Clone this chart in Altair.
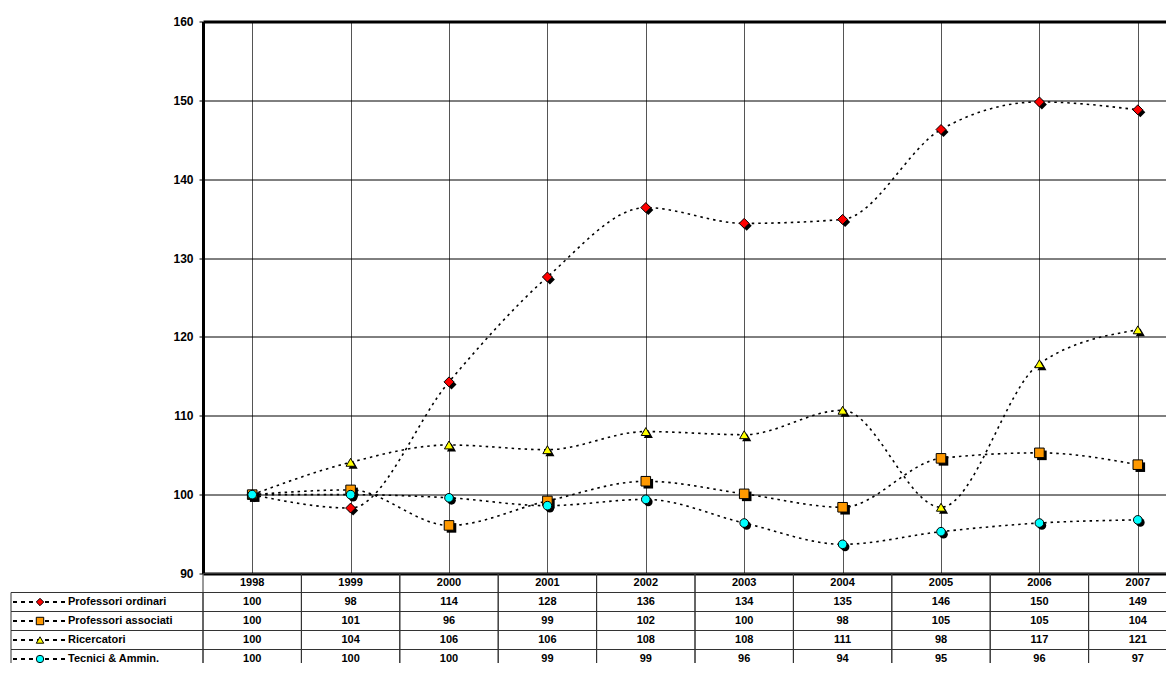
import altair as alt
import pandas as pd

years = ["1998", "1999", "2000", "2001", "2002", "2003", "2004", "2005", "2006", "2007"]
series = ["Professori ordinari", "Professori associati", "Ricercatori", "Tecnici & Ammin."]

# plotted values
po = [100, 98.3, 114.3, 127.6, 136.4, 134.4, 134.9, 146.3, 149.8, 148.8]
pa = [100, 100.6, 96.1, 99.2, 101.7, 100.1, 98.4, 104.6, 105.3, 103.8]
ric = [100, 104.1, 106.3, 105.7, 108.0, 107.6, 110.7, 98.4, 116.6, 120.9]
ta = [100, 100.0, 99.6, 98.6, 99.4, 96.4, 93.7, 95.3, 96.4, 96.8]

# data table values (as printed)
po_tab = [100, 98, 114, 128, 136, 134, 135, 146, 150, 149]
pa_tab = [100, 101, 96, 99, 102, 100, 98, 105, 105, 104]
ric_tab = [100, 104, 106, 106, 108, 108, 111, 98, 117, 121]
ta_tab = [100, 100, 100, 99, 99, 96, 94, 95, 96, 97]

y_ticks = [90, 100, 110, 120, 130, 140, 150, 160]
shapes = ["diamond", "square", "triangle-up", "circle"]
colors = ["#FF0000", "#FF9900", "#FFFF00", "#00FFFF"]
sizes = [100, 75, 85, 75]

FONT = "Liberation Sans"

vals = [po, pa, ric, ta]
tabs = [po_tab, pa_tab, ric_tab, ta_tab]

rows = []
for s, v in zip(series, vals):
    for yr, val in zip(years, v):
        rows.append({"year": yr, "series": s, "value": val})
df = pd.DataFrame(rows)

trows = []
for yr in years:
    trows.append({"year": yr, "row": "hdr", "label": yr})
for s, t in zip(series, tabs):
    for yr, val in zip(years, t):
        trows.append({"year": yr, "row": s, "label": str(val)})
tdf = pd.DataFrame(trows)

ldf = pd.DataFrame({"row": series, "series": series})

W = 984
H = 552

xscale = alt.Scale(domain=years, paddingInner=0, paddingOuter=0)
shape_scale = alt.Scale(domain=series, range=shapes)
fill_scale = alt.Scale(domain=series, range=colors)
size_scale = alt.Scale(domain=series, range=sizes)

xenc = alt.X("year:O", scale=xscale,
             axis=alt.Axis(labels=False, ticks=False, domain=False, grid=True,
                           bandPosition=0, title=None, gridColor="#555", gridWidth=1))
yenc = alt.Y("value:Q", scale=alt.Scale(domain=[90, 160], nice=False, zero=False),
             axis=alt.Axis(values=y_ticks, title=None, grid=True, gridColor="black",
                           gridWidth=alt.ExprRef(expr="datum.value == 160 || datum.value == 90 ? 3 : 1"),
                           domain=True, domainColor="black", domainWidth=3,
                           tickColor="black", tickSize=4,
                           labelPadding=6, labelFont=FONT, labelFontWeight="bold",
                           labelFontSize=12, labelColor="black"))

base = alt.Chart(df)
lines = base.mark_line(interpolate="monotone", color="black",
                       strokeDash=[2.5, 4], strokeWidth=1.6).encode(
    x=xenc, y=yenc, detail="series:N")
shadow = base.mark_point(filled=True, color="black", opacity=1, xOffset=2.5, yOffset=2.5).encode(
    x=alt.X("year:O", scale=xscale),
    y=alt.Y("value:Q"),
    shape=alt.Shape("series:N", scale=shape_scale, legend=None),
    size=alt.Size("series:N", scale=size_scale, legend=None))
pts = base.mark_point(filled=True, stroke="black", strokeWidth=1, opacity=1).encode(
    x=alt.X("year:O", scale=xscale),
    y=alt.Y("value:Q"),
    shape=alt.Shape("series:N", scale=shape_scale, legend=None),
    fill=alt.Fill("series:N", scale=fill_scale, legend=None),
    size=alt.Size("series:N", scale=size_scale, legend=None))

top = alt.layer(lines, shadow, pts).properties(
    width=W, height=H,
    view=alt.ViewBackground(strokeWidth=0))

# ---- data table (the window cuts its right end) ----
RH = 19
rowdom = ["hdr"] + series
TH = RH * len(rowdom)
yscale_t = alt.Scale(domain=rowdom, paddingInner=0, paddingOuter=0)
tx = alt.X("year:O", scale=xscale, axis=None)
ty = alt.Y("row:N", scale=yscale_t, axis=None)

cells = alt.Chart(tdf).mark_rect(fillOpacity=0, stroke="#333", strokeWidth=1).encode(x=tx, y=ty)
texts = alt.Chart(tdf).mark_text(font=FONT, fontWeight="bold", fontSize=11, color="black").encode(
    x=tx, y=ty, text="label:N")

lbox = alt.Chart(ldf).mark_rect(fillOpacity=0, stroke="#333", strokeWidth=1).encode(
    x=alt.value(-192), x2=alt.value(0), y=ty)
lrule = alt.Chart(ldf).mark_rule(color="black", strokeDash=[4, 4], strokeWidth=1.8).encode(
    x=alt.value(-190), x2=alt.value(-137),
    y=alt.Y("row:N", scale=yscale_t, axis=None, bandPosition=0.5))
lpt = alt.Chart(ldf).mark_point(filled=True, stroke="black", strokeWidth=1, opacity=1, size=55).encode(
    x=alt.value(-163), y=ty,
    shape=alt.Shape("series:N", scale=shape_scale, legend=None),
    fill=alt.Fill("series:N", scale=fill_scale, legend=None))
ltext = alt.Chart(ldf).mark_text(align="left", font=FONT, fontWeight="bold", fontSize=11,
                                 color="black").encode(
    x=alt.value(-135), y=ty, text="row:N")

table = alt.layer(cells, lbox, lrule, lpt, ltext, texts).properties(
    width=W, height=TH,
    view=alt.ViewBackground(strokeWidth=0))

chart = alt.vconcat(top, table, spacing=0, bounds="flush").properties(
    padding={"left": 2, "top": 7.5, "right": -22, "bottom": -7}
).configure(background="white").configure_view(strokeWidth=0)

chart.save("out.html", embed_options={"renderer": "svg", "actions": False})
